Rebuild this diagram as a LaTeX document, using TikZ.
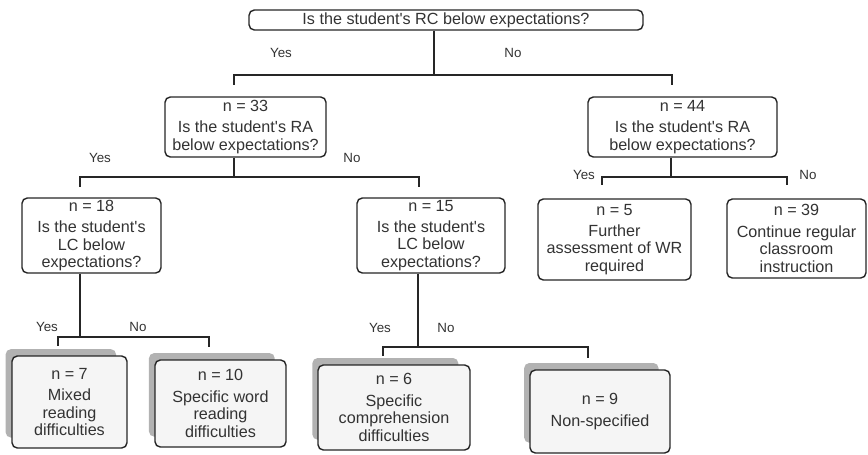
\documentclass[tikz,border=0pt]{standalone}
\usepackage{fontspec}
\setmainfont{Liberation Sans}
\usetikzlibrary{shadows}
\tikzset{
  qbox/.style={draw=black!85, line width=0.8pt, rounded corners=3pt, fill=white, align=center, inner sep=1pt, text=black!80, font=\fontsize{9.2}{10}\selectfont},
  rbox/.style={qbox, fill=black!4, drop shadow={shadow xshift=-0.18cm, shadow yshift=0.18cm, shadow scale=0.96, fill=black!30, opacity=1}},
  lbl/.style={text=black!80, font=\fontsize{7.6}{9}\selectfont},
  link/.style={draw=black!85, line width=0.8pt}
}
\begin{document}
\begin{tikzpicture}[x=0.02cm, y=-0.02cm]
\useasboundingbox (0,0) rectangle (868,454);
% questions
\node[qbox, minimum width=7.88cm, minimum height=0.40cm] (top) at (446,20) {Is the student\textquotesingle s RC below expectations?};
\node[qbox, minimum width=3.22cm, minimum height=1.20cm] (q33) at (245.5,127) {n = 33\\[2pt]Is the student\textquotesingle s RA\\below expectations?};
\node[qbox, minimum width=3.78cm, minimum height=1.20cm] (q44) at (682.5,127) {n = 44\\[2pt]Is the student\textquotesingle s RA\\below expectations?};
\node[qbox, minimum width=2.78cm, minimum height=1.50cm] (q18) at (91.5,235.5) {n = 18\\[2pt]Is the student\textquotesingle s\\LC below\\expectations?};
\node[qbox, minimum width=2.96cm, minimum height=1.50cm] (q15) at (431,235.5) {n = 15\\[2pt]Is the student\textquotesingle s\\LC below\\expectations?};
% outcomes
\node[qbox, minimum width=3.06cm, minimum height=1.62cm] (r5) at (614.5,239.5) {n = 5\\[2pt]Further\\assessment of WR\\required};
\node[qbox, minimum width=2.78cm, minimum height=1.58cm] (r39) at (796.5,238.5) {n = 39\\[2pt]Continue regular\\classroom\\instruction};
\node[rbox, minimum width=2.30cm, minimum height=1.84cm] (r7) at (69.5,402) {n = 7\\[2pt]Mixed\\reading\\difficulties};
\node[rbox, minimum width=2.62cm, minimum height=1.74cm] (r10) at (220.5,403.5) {n = 10\\[2pt]Specific word\\reading\\difficulties};
\node[rbox, minimum width=3.04cm, minimum height=1.70cm] (r6) at (394,407.5) {n = 6\\[2pt]Specific\\comprehension\\difficulties};
\node[rbox, minimum width=2.80cm, minimum height=1.66cm] (r9) at (600,411.5) {n = 9\\[2pt]Non-specified};
% branch points
\coordinate (j0) at (434,75);
\coordinate (t33) at (234,85);
\coordinate (t44) at (672,85);
\coordinate (j33) at (234,177);
\coordinate (t18) at (80,187);
\coordinate (t15) at (419,187);
\coordinate (j44) at (671,177);
\coordinate (t5) at (602,185);
\coordinate (t39) at (787,185);
\coordinate (j18) at (80,337);
\coordinate (t7) at (58,346);
\coordinate (t10) at (209,347);
\coordinate (j15) at (418,347);
\coordinate (t6) at (383,356);
\coordinate (t9) at (588,358);
\draw[link] (j0 |- top.south) -- (j0) -| (t33);
\draw[link] (j0) -| (t44);
\draw[link] (j33 |- q33.south) -- (j33) -| (t18);
\draw[link] (j33) -| (t15);
\draw[link] (j44 |- q44.south) -- (j44) -| (t5);
\draw[link] (j44) -| (t39);
\draw[link] (j18 |- q18.south) -- (j18) -| (t7);
\draw[link] (j18) -| (t10);
\draw[link] (j15 |- q15.south) -- (j15) -| (t6);
\draw[link] (j15) -| (t9);
% labels
\node[lbl] (y0) at (281,53) {Yes};
\node[lbl] (n0) at (513,53) {No};
\node[lbl] (y33) at (100,158) {Yes};
\node[lbl] (n33) at (352,158) {No};
\node[lbl] (y44) at (584,175) {Yes};
\node[lbl] (n44) at (808,175) {No};
\node[lbl] (y18) at (47,327) {Yes};
\node[lbl] (n18) at (138,327) {No};
\node[lbl] (y15) at (380,328) {Yes};
\node[lbl] (n15) at (446,328) {No};
\end{tikzpicture}
\end{document}
